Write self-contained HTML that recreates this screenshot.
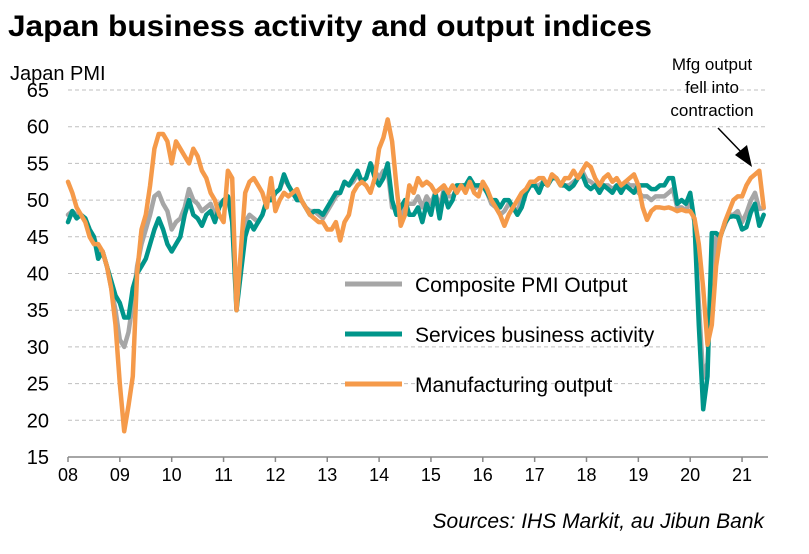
<!DOCTYPE html>
<html><head><meta charset="utf-8">
<style>
body{margin:0;background:#fff;font-family:"Liberation Sans",sans-serif;}
#wrap{position:relative;width:809px;height:554px;overflow:hidden;}
</style></head>
<body>
<div id="wrap">
<svg id="chart" width="809" height="554" xmlns="http://www.w3.org/2000/svg" font-family="Liberation Sans, sans-serif">
<text x="8" y="36" font-size="30" font-weight="bold" fill="#000" textLength="644" lengthAdjust="spacingAndGlyphs">Japan business activity and output indices</text>
<text x="10" y="80" font-size="20" fill="#000">Japan PMI</text>
<g id="grid"></g>
<g id="yticks"></g>
<g id="xaxis"></g>
<g id="series"></g>
<g>
<line x1="345" y1="284" x2="402" y2="284" stroke="#a6a6a6" stroke-width="5"/>
<text x="415" y="292" font-size="21" fill="#000">Composite PMI Output</text>
<line x1="345" y1="334" x2="402" y2="334" stroke="#00958a" stroke-width="5"/>
<text x="415" y="342" font-size="21" fill="#000">Services business activity</text>
<line x1="345" y1="384" x2="402" y2="384" stroke="#f59a4a" stroke-width="5"/>
<text x="415" y="392" font-size="21" fill="#000">Manufacturing output</text>
</g>
<g font-size="17" fill="#000" text-anchor="middle">
<text x="712" y="70">Mfg output</text>
<text x="712" y="93">fell into</text>
<text x="712" y="116">contraction</text>
<line x1="718" y1="128" x2="744" y2="155" stroke="#000" stroke-width="1.5"/>
<polygon points="752,167 735,155 747,145" fill="#000"/>
</g>
<text x="764" y="528" font-size="21" font-style="italic" text-anchor="end" fill="#000">Sources: IHS Markit, au Jibun Bank</text>
</svg>
</div>
<script>
const yearLabels=["08","09","10","11","12","13","14","15","16","17","18","19","20","21"];
const yTicks=[15,20,25,30,35,40,45,50,55,60,65];
const composite=[48,48.5,48,48,47.5,46,45,43,43,41,38,35,
31,30,32,36,41,44,46,48,50.5,51,49.5,48.5,
46,47,47.5,49,51.5,50,49.5,48.5,49,49.5,48,49.5,
50,50.5,48,35.5,41,47,48,47.5,47,48,50,50,
51,51.5,53,52,51,50.5,50,49,48.5,48.5,48,47.5,
48.5,49.5,50.5,51,52.5,52,52.5,53.5,52.5,53,55,54,
53,54,54,49,49,48,49.5,49.5,49.5,50.5,49,50.5,
49.5,51,49,51.5,50.5,50.5,51.5,52,51.5,52,51.5,52,
52,51,49.5,49,48,48.5,49.5,49,48.5,50,51,52,
52,52,52.5,52,53,53,52,52,52,52.5,53,54,
52.8,52.5,52,52,52,52,51.5,52,51.5,52.5,52,52,
51,50.5,50.5,50,50.5,50.5,50.5,51,51.5,49,49,48.6,
50,47,36,25.8,27.8,40,44.9,45.2,46.6,48,48,48.5,
47,48.2,49.9,51,48.8,48.9];
const services=[47,48.5,47.5,48,47.5,46,45,42,43,41,39,37,
36,34,34,38,40,41,42,44,46,47.5,46,44,
43,44,45,48,50,48,47.5,46.5,48,48.5,47,49,
50,50.5,47,35,40,45,47,46,47,48,50,50,
51,51.5,53.5,52,51,50,50,49,48,48.5,48.5,48,
49,50,51,51,52.5,52,53,54,52.5,53,55,53,
52,53,55,50,48,49,50,48,48,49,47,49.5,
48,51,47.5,51,49,50,52,52,52,53,52,52,
52,51,50,50,49,50,50,49,48,49,51,52,
52,51,52.5,52,53,53,52,52,51.5,52,53,53.5,
52,51.5,52,51,52,51.5,51,52,51,52,51.5,51,
52,52,52,51.5,51.5,52,52,53,53,49.5,50,49.5,
51,47,33,21.5,26,45.5,45.5,45,46.9,47.7,47.8,47.7,
46,46.3,48.3,49.5,46.5,48];
const manufacturing=[52.5,51,49,48,47,45,44,44,43,41,38,33,
25,18.5,22,26,40,46,48,52,57,59,59,58,
55,58,57,56,55,57,56,54,53,51,50,48,
47,54,53,35,43,51,52.5,53,52,51,49,53,
48.5,50,51,50.5,51,51.5,50,49,48,47.5,47,47,
46,46,47,44.5,47,48,51,52,52.5,52,51,53,
57,58.5,61,58,52,46.5,48,52,51,53,52,52.5,
52,51,51.5,52,51,52,51,52,51,52.5,51,50.5,
52.5,51.5,50,49,48,46.5,48,49,50,51,51.5,52.5,
52.5,53,53,52,53.5,53,52,53,53,54,53,54,
55,54.5,53,52,53,53.5,52.5,53,52,52.5,53,53.5,
52,49,47.3,48.5,49,49,48.9,49,48.8,48.5,48.7,48.5,
48.5,47.5,44,38,30.3,33,41,45,47,48.5,50,50.5,
50.5,52,53,53.5,54,49];

const NS="http://www.w3.org/2000/svg";
const X0=68, PER_YEAR=51.85, Y65=90, PER_UNIT=7.34;
function xScale(i){return X0+i*PER_YEAR/12;}
function yScale(v){return Y65+(65-v)*PER_UNIT;}
function mk(tag,attrs,parent){const e=document.createElementNS(NS,tag);for(const k in attrs)e.setAttribute(k,attrs[k]);parent.appendChild(e);return e;}

const grid=document.getElementById('grid'), yt=document.getElementById('yticks'), xa=document.getElementById('xaxis'), ser=document.getElementById('series');
yTicks.forEach(v=>{
  const y=yScale(v);
  if(v>15){
    const l=mk('line',{x1:X0,x2:768,y1:y,y2:y,stroke:'#bfbfbf','stroke-width':1,'stroke-dasharray':'4,3'},grid);
    
    
  }
  const t=mk('text',{x:49,y:y+7,'font-size':20,'text-anchor':'end',fill:'#000'},yt);
  t.textContent=v;
  
  
});
const ax=mk('line',{x1:X0,x2:768,y1:yScale(15),y2:yScale(15),stroke:'#888','stroke-width':1.5},xa);


yearLabels.forEach((lab,i)=>{
  const x=xScale(i*12);
  mk('line',{x1:x,x2:x,y1:yScale(15),y2:yScale(15)+5,stroke:'#888','stroke-width':1.5},xa);
  const t=mk('text',{x:x,y:yScale(15)+24,'font-size':18,'text-anchor':'middle',fill:'#000'},xa);
  t.textContent=lab;
  
  
});
function drawLine(arr,color,name){
  const d=arr.map((v,i)=>(i?'L':'M')+xScale(i).toFixed(1)+','+yScale(v).toFixed(1)).join('');
  const p=mk('path',{d:d,fill:'none',stroke:color,'stroke-width':4.5,'stroke-linejoin':'round','stroke-linecap':'round'},ser);
  
  
}
drawLine(composite,'#a6a6a6','composite-line');
drawLine(services,'#00958a','services-line');
drawLine(manufacturing,'#f59a4a','manufacturing-line');
</script>
</body></html>
